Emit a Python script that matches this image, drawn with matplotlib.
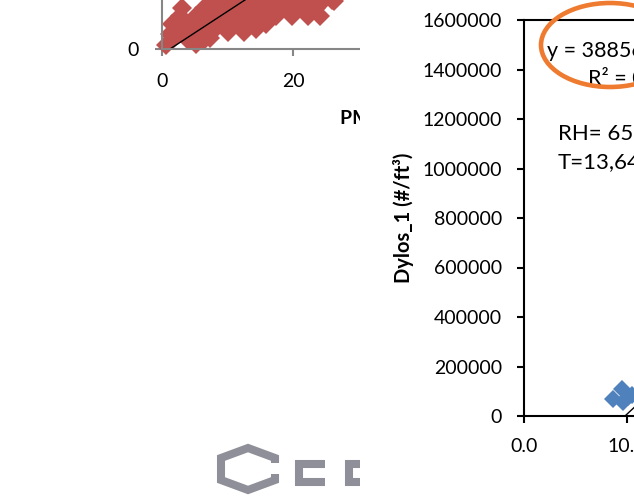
import matplotlib
matplotlib.use("Agg")
import matplotlib.pyplot as plt
from matplotlib.patches import Rectangle, Ellipse
from matplotlib.lines import Line2D
from matplotlib.ticker import FormatStrFormatter

plt.rcParams['font.family'] = ['Lato', 'DejaVu Sans']

# Left panel: PM vs Dylos cloud (red)
pm_left = [7.63, 10.08, 12.52, 14.96, 17.40, 19.85, 22.29, 24.73, 25.95,
           3.05, 6.41, 8.85, 11.30, 13.74, 16.18, 18.63, 21.07, 23.51,
           2.75, 5.19, 7.63, 10.08, 12.52, 14.96, 17.40, 19.85, 22.29, 24.12,
           1.53, 3.97, 6.41, 8.85, 11.30, 13.74, 15.88,
           2.75, 5.19, 7.63, 10.08, 12.52,
           1.53, 3.97, 6.41,
           1.22, 5.19, 7.33, 14.35, 0.61, 26.2]
dylos_left = [294000] * 9 + [246000] * 9 + [198000] * 10 + [150000] * 7 + \
             [102000] * 5 + [54000] * 3 + [90000, 30000, 66000, 120000, 24000, 290000]
fit_left = (25700, -31400)

# Right panel: PM vs Dylos_1 (blue)
pm_right = [8.64, 9.48, 9.60, 10.50, 10.10]
dylos_right = [68700, 109000, 56600, 85000, 75000]
fit_right = (38856, -381000)

RED = "#C0504D"
BLUE = "#4F81BD"
ORANGE = "#EE7B30"
LOGO = "#8E8F98"

W, H = 634, 498


def fx(px):
    return px / W


def fy(py):
    return 1 - py / H


fig = plt.figure(figsize=(6.34, 4.98), dpi=100)

# ---- left chart ----
ax1 = fig.add_axes([fx(162), fy(49), 393 / W, 166.7 / H])
ax1.set_xlim(0, 60)
ax1.set_ylim(0, 1000000)
ax1.plot(pm_left, dylos_left, linestyle="none", marker="D", markersize=10.5,
         color=RED, markeredgewidth=0, clip_on=False)
xs = [1.22, 40]
ax1.plot(xs, [fit_left[0] * x + fit_left[1] for x in xs], color="black", lw=1)
ax1.set_xticks([0, 20])
ax1.set_yticks([0])
for s in ["top", "right"]:
    ax1.spines[s].set_visible(False)
for s in ["left", "bottom"]:
    ax1.spines[s].set_color("#868686")
    ax1.spines[s].set_linewidth(1.5)
ax1.tick_params(direction="out", length=5, width=1.5, color="#868686",
                labelsize=14, pad=12)
pm_label = ax1.text(fx(340), fy(117), "PM2,5 (µg/m³)", transform=fig.transFigure,
                    ha="left", va="center", fontsize=14, fontweight="bold")
# the right chart sits on top of this label, keep only the visible part
pm_label.set_clip_path(Rectangle((0, 0), fx(360), 1, transform=fig.transFigure))

# white background of the right chart area
fig.add_artist(Rectangle((fx(360), 0), 1, 1, transform=fig.transFigure,
                         facecolor="white", edgecolor="none", zorder=1))

# logo at the bottom
logo_parts = [
    [(275, 463), (275, 458), (248, 448), (221, 458), (221, 480), (248, 490), (275, 480), (275, 474)],
    [(325, 463.5), (298.5, 463.5), (298.5, 481.5), (325, 481.5)],
    [(365, 463.5), (348.5, 463.5), (348.5, 481.5), (365, 481.5)],
]
for part in logo_parts:
    fig.add_artist(Line2D([fx(p[0]) for p in part], [fy(p[1]) for p in part],
                          transform=fig.transFigure, color=LOGO, lw=5.8,
                          solid_joinstyle="miter", solid_capstyle="butt", zorder=0.5))

# ---- right chart ----
ax2 = fig.add_axes([fx(524), fy(416), 515 / W, 396 / H])
ax2.set_zorder(2)
ax2.set_xlim(0, 50)
ax2.set_ylim(0, 1600000)
ax2.plot(pm_right, dylos_right, linestyle="none", marker="D", markersize=9,
         color=BLUE, markeredgewidth=0)
xs = [-fit_right[1] / fit_right[0], 50]
ax2.plot(xs, [fit_right[0] * x + fit_right[1] for x in xs], color="black", lw=1)
ax2.set_xticks(range(0, 51, 10))
ax2.set_yticks(range(0, 1600001, 200000))
ax2.xaxis.set_major_formatter(FormatStrFormatter("%.1f"))
ax2.yaxis.set_major_formatter(FormatStrFormatter("%d"))
for s in ax2.spines.values():
    s.set_linewidth(1.5)
ax2.tick_params(direction="out", length=5, width=1.5, labelsize=14, pad=11)

fig.text(fx(404), fy(218), "Dylos_1 (#/ft³)", rotation=90, ha="center", va="center",
         fontsize=14.5, fontweight="bold")

fig.text(fx(547), fy(51), "y = 38856x - 381000", fontsize=15.5, ha="left", va="center")
fig.text(fx(588), fy(78), "R² = 0,9512", fontsize=15.5, ha="left", va="center")
fig.text(fx(558), fy(133), "RH= 65,3%", fontsize=16, ha="left", va="center")
fig.text(fx(558), fy(163), "T=13,64°C", fontsize=16, ha="left", va="center")

fig.add_artist(Ellipse((fx(610), fy(45)), 2 * 69 / W, 2 * 42 / H,
                       transform=fig.transFigure, fill=False,
                       edgecolor=ORANGE, lw=3.3, zorder=4))

fig.savefig("out.png", dpi=100)
